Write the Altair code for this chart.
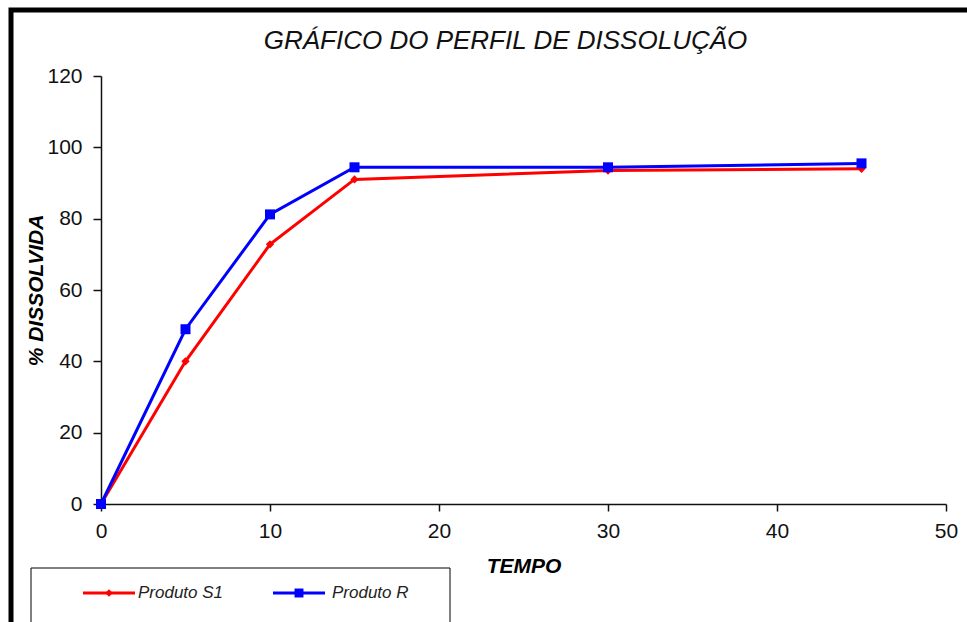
import altair as alt
import pandas as pd

# Dissolution profile: time (min) vs % dissolved for two products
tempo = [0, 5, 10, 15, 30, 45]
produto_s1 = [0, 40.0, 72.8, 91.0, 93.5, 94.0]
produto_r = [0, 49.0, 81.2, 94.4, 94.4, 95.5]
series = ["Produto S1", "Produto R"]
colors = ["#FF0000", "#0000FF"]
shapes = ["diamond", "square"]
marker_sizes = [70, 100]
titulo = "GRÁFICO DO PERFIL DE DISSOLUÇÃO"

df = pd.DataFrame(
    {
        "tempo": tempo * 2,
        "pct": produto_s1 + produto_r,
        "produto": [series[0]] * len(tempo) + [series[1]] * len(tempo),
        "ordem": [0] * len(tempo) + [1] * len(tempo),
    }
)

FONT = "Liberation Sans"
W, H = 845, 428

x_enc = alt.X(
    "tempo:Q",
    scale=alt.Scale(domain=[0, 50], nice=False),
    axis=alt.Axis(
        title="TEMPO",
        values=[0, 10, 20, 30, 40, 50],
        grid=False,
        tickSize=7,
        labelPadding=9,
        labelFlush=False,
        labelFontSize=21,
        titleFontSize=21,
        titleFontStyle="italic",
        titleFontWeight="bold",
        titlePadding=14,
    ),
)
y_enc = alt.Y(
    "pct:Q",
    scale=alt.Scale(domain=[0, 120], nice=False),
    axis=alt.Axis(
        title="% DISSOLVIDA",
        values=[0, 20, 40, 60, 80, 100, 120],
        grid=False,
        tickSize=8,
        labelPadding=11,
        labelFontSize=21,
        titleFontSize=21,
        titleFontStyle="italic",
        titleFontWeight="bold",
        titlePadding=0,
    ),
)
color_enc = alt.Color(
    "produto:N",
    scale=alt.Scale(domain=series, range=colors),
    legend=None,
)

base = alt.Chart(df)

lines = base.mark_line(strokeWidth=3).encode(
    x=x_enc, y=y_enc, color=color_enc, detail="produto:N", order="ordem:Q"
)
points = base.mark_point(filled=True, opacity=1).encode(
    x="tempo:Q",
    y="pct:Q",
    color=color_enc,
    shape=alt.Shape("produto:N", scale=alt.Scale(domain=series, range=shapes), legend=None),
    size=alt.Size("produto:N", scale=alt.Scale(domain=series, range=marker_sizes), legend=None),
    order="ordem:Q",
)

one = alt.Data(values=[{}])

# outer frame of the chart
frame = alt.Chart(one).mark_rect(fill=None, stroke="black", strokeWidth=5).encode(
    x=alt.value(-90), x2=alt.value(W + 60), y=alt.value(-66), y2=alt.value(H + 160)
)

# chart heading above the plot area
heading = alt.Chart(one).mark_text(
    text=titulo, align="center", baseline="alphabetic", font=FONT,
    fontSize=26, fontStyle="italic", color="#111"
).encode(x=alt.value(W / 2 - 18), y=alt.value(-27))

# legend box with both series
leg_box = alt.Chart(one).mark_rect(fill="white", stroke="black", strokeWidth=1).encode(
    x=alt.value(-70), x2=alt.value(349), y=alt.value(492), y2=alt.value(H + 160)
)
leg_items = []
for i, (name, col, shp, sz) in enumerate(zip(series, colors, shapes, marker_sizes)):
    x0 = -18 + i * 190
    leg_items.append(
        alt.Chart(one).mark_rule(color=col, strokeWidth=3).encode(
            x=alt.value(x0), x2=alt.value(x0 + 52), y=alt.value(517)
        )
    )
    leg_items.append(
        alt.Chart(one).mark_point(filled=True, opacity=1, color=col, shape=shp, size=sz * 0.8).encode(
            x=alt.value(x0 + 26), y=alt.value(517)
        )
    )
    leg_items.append(
        alt.Chart(one).mark_text(
            text=name, align="left", baseline="middle", font=FONT,
            fontSize=17, fontStyle="italic", color="#222"
        ).encode(x=alt.value(x0 + 55 + (4 if i else 0)), y=alt.value(517))
    )

chart = (
    alt.layer(frame, heading, lines, points, leg_box, *leg_items)
    .properties(
        width=W,
        height=H,
        padding={"left": 101, "top": 76, "right": 21, "bottom": 118},
        autosize=alt.AutoSizeParams(type="none"),
        background="white",
    )
    .configure_view(strokeWidth=0)
    .configure_axis(
        labelFont=FONT,
        titleFont=FONT,
        labelColor="#111",
        titleColor="#000",
        domainColor="#111",
        tickColor="#111",
        domainWidth=1.5,
        tickWidth=1.5,
    )
)

chart.save("out.html", embed_options={"renderer": "svg", "actions": False})
